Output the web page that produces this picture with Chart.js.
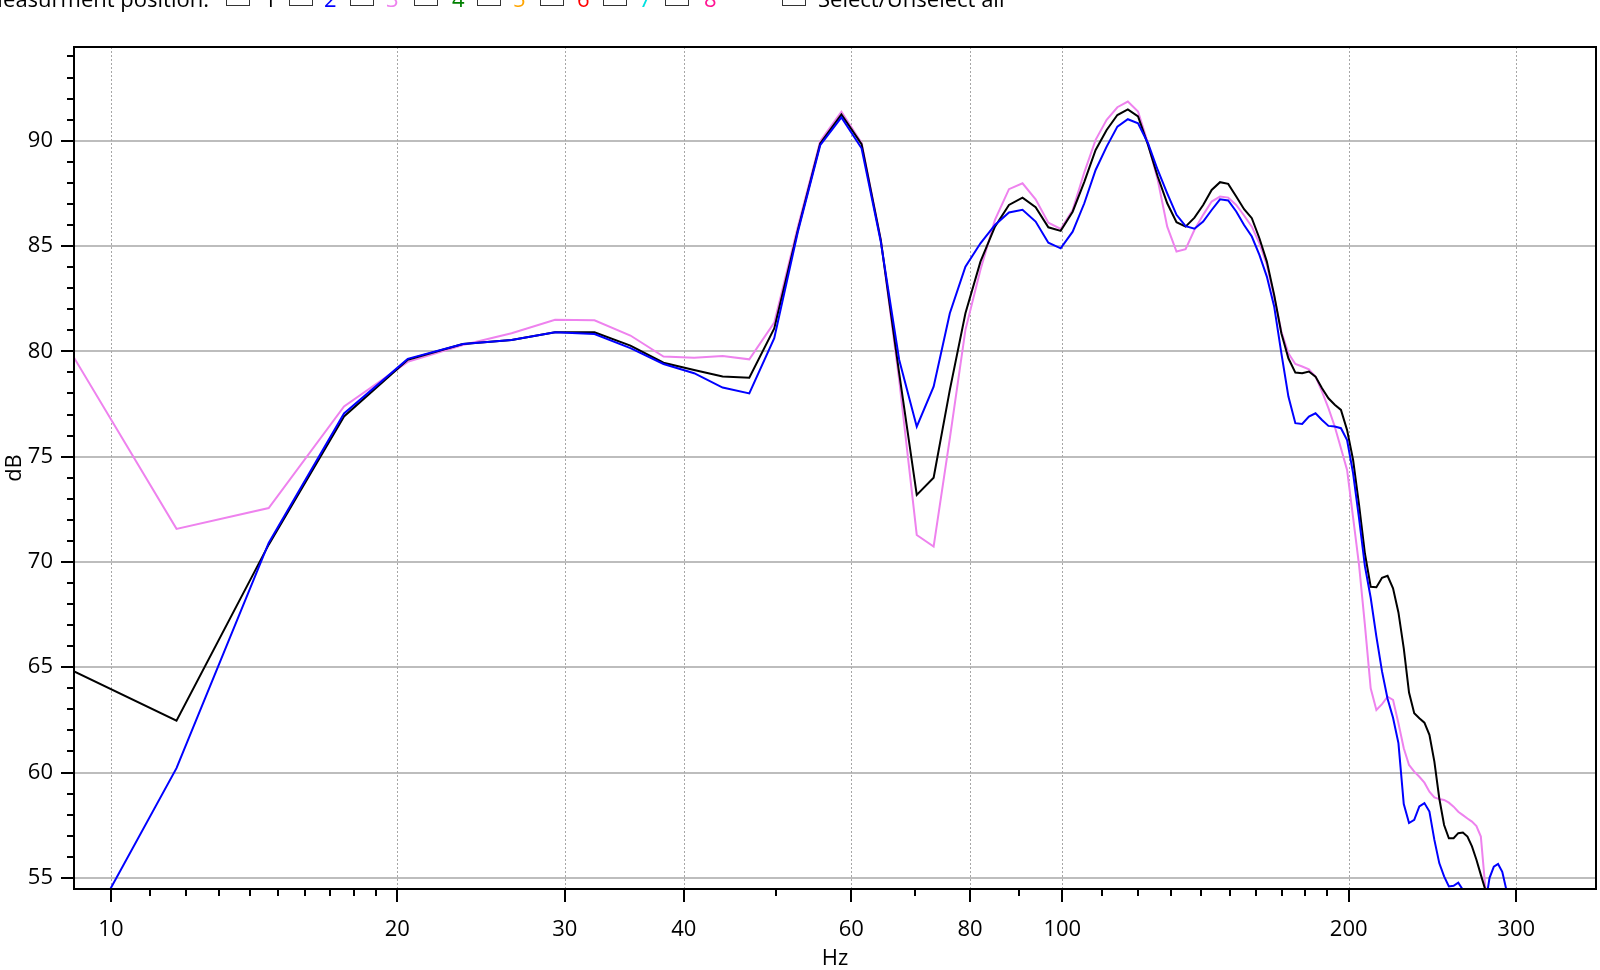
<!DOCTYPE html>
<html><head><meta charset="utf-8">
<script src="https://cdn.jsdelivr.net/npm/chart.js@4.4.1/dist/chart.umd.min.js"></script>
<style>
html,body{margin:0;padding:0;background:#fff;overflow:hidden;}
#wrap{position:relative;width:1600px;height:970px;overflow:hidden;}
canvas{position:absolute;left:0;top:0;}
#hdr{position:absolute;left:0;top:0;width:1600px;height:40px;font-family:"Open Sans",sans-serif;font-size:22px;color:#000;z-index:2;}
.t{position:absolute;top:-12px;line-height:20px;white-space:nowrap;}
.cb{position:absolute;top:-18px;width:24px;height:24px;border:1px solid #333;box-sizing:border-box;background:#fff;font-size:15px;line-height:22px;text-align:center;color:#000;}
</style></head>
<body><div id="wrap">
<canvas id="c" width="1600" height="970"></canvas>
<div id="hdr">
  <span class="t" style="right:1391px">Measurment position:</span>
  <span class="cb" style="left:226px">✓</span><span class="t" style="left:264px;color:#000">1</span>
  <span class="cb" style="left:289px">✓</span><span class="t" style="left:324px;color:#0000ff">2</span>
  <span class="cb" style="left:350px">✓</span><span class="t" style="left:386px;color:#ee82ee">3</span>
  <span class="cb" style="left:414px"></span><span class="t" style="left:452px;color:#008000">4</span>
  <span class="cb" style="left:477px"></span><span class="t" style="left:513px;color:#ffa500">5</span>
  <span class="cb" style="left:540px"></span><span class="t" style="left:577px;color:#ff0000">6</span>
  <span class="cb" style="left:603px"></span><span class="t" style="left:639px;color:#00e0e0">7</span>
  <span class="cb" style="left:665px"></span><span class="t" style="left:704px;color:#ff1493">8</span>
  <span class="cb" style="left:782px"></span><span class="t" style="left:818px">Select/Unselect all</span>
</div>
</div>
<script>
// Frequency bins (Hz)
const freqHz = [8.79,11.72,14.65,17.58,20.51,23.44,26.37,29.30,32.23,35.16,
38.09,41.02,43.95,46.88,49.80,52.73,55.66,58.59,61.52,64.45,
67.38,70.31,73.24,76.17,79.10,82.03,84.96,87.89,90.82,93.75,
96.68,99.61,102.54,105.47,108.40,111.33,114.26,117.19,120.12,123.05,
125.98,128.91,131.84,134.77,137.70,140.63,143.55,146.48,149.41,152.34,
155.27,158.20,161.13,164.06,166.99,169.92,172.85,175.78,178.71,181.64,
184.57,187.50,190.43,193.36,196.29,199.22,202.15,205.08,208.01,210.94,
213.87,216.80,219.73,222.66,225.59,228.52,231.45,234.38,237.30,240.23,
243.16,246.09,249.02,251.95,254.88,257.81,260.74,263.67,266.60,269.53,
272.46,275.39,278.32,281.25,284.18,287.11,290.04,292.97,295.90,298.83];

// Measurement position 1 (black), dB
const pos1 = [65.18,62.46,70.82,76.91,79.6,80.35,80.54,80.91,80.9,80.27,
79.46,79.11,78.80,78.75,81.09,85.76,89.87,91.25,89.84,85.28,
78.96,73.18,74.0,78.17,81.81,84.26,85.92,86.95,87.3,86.84,
85.89,85.72,86.63,88.05,89.56,90.51,91.22,91.49,91.15,89.8,
88.3,87.03,86.13,85.92,86.35,86.95,87.66,88.03,87.95,87.35,
86.75,86.32,85.37,84.26,82.68,80.86,79.67,78.99,78.96,79.04,
78.80,78.25,77.77,77.46,77.22,76.27,74.84,72.71,70.4,68.82,
68.8,69.25,69.34,68.75,67.6,65.9,63.8,62.82,62.58,62.37,
61.79,60.52,58.78,57.51,56.88,56.88,57.12,57.15,56.96,56.49,
55.86,55.14,54.45,53.6,53.0,52.5,52.0,51.5,51.0,50.5];

// Measurement position 2 (blue), dB
const pos2 = [49.9,60.21,70.9,77.05,79.64,80.35,80.54,80.91,80.82,80.15,
79.40,78.96,78.28,78.0,80.62,85.68,89.79,91.11,89.64,85.2,
79.6,76.42,78.32,81.81,84.02,85.13,86.0,86.59,86.72,86.16,
85.16,84.89,85.68,87.03,88.61,89.72,90.67,91.02,90.83,89.88,
88.61,87.5,86.48,85.94,85.82,86.16,86.71,87.22,87.16,86.64,
86.0,85.45,84.58,83.55,82.13,79.91,77.85,76.59,76.55,76.9,
77.06,76.74,76.46,76.43,76.35,75.79,74.21,72.07,69.8,68.3,
66.45,64.8,63.5,62.6,61.4,58.5,57.6,57.75,58.39,58.55,
58.15,56.8,55.7,55.07,54.59,54.62,54.77,54.43,53.9,53.4,
53.2,53.3,53.7,55.0,55.53,55.66,55.29,54.42,53.5,52.8];

// Measurement position 3 (violet), dB
const pos3 = [81.0,71.57,72.56,77.38,79.5,80.3,80.86,81.5,81.47,80.75,
79.75,79.70,79.78,79.62,81.36,85.92,89.98,91.38,89.9,85.3,
78.64,71.28,70.73,75.87,81.02,83.87,86.24,87.7,87.98,87.22,
86.11,85.81,86.71,88.5,90.04,90.99,91.59,91.86,91.38,89.88,
88.14,85.92,84.74,84.85,85.77,86.48,87.11,87.35,87.3,86.95,
86.45,85.92,85.13,84.1,82.6,80.94,79.91,79.4,79.28,79.15,
78.8,78.09,77.3,76.43,75.4,74.37,72.1,69.85,67.0,64.0,
62.97,63.25,63.6,63.45,62.34,61.15,60.36,60.04,59.8,59.52,
59.09,58.82,58.74,58.7,58.57,58.38,58.14,57.98,57.82,57.67,
57.46,56.96,54.6,53.2,52.5,52.0,51.5,51.0,50.5,50.0];

// Axis ticks
const xTickValues = [10,11,12,13,14,15,16,17,18,19,20,30,40,50,60,70,80,90,100,110,120,130,140,150,160,170,180,190,200,300];
const xLabelValues = [10,20,30,40,60,80,100,200,300];
const yTickValues = [55,60,65,70,75,80,85,90];
const yMinorValues = [56,57,58,59,61,62,63,64,66,67,68,69,71,72,73,74,76,77,78,79,81,82,83,84,86,87,88,89,91,92,93,94];

const series = [
  {label:'2', data:pos2, color:'#0000ff'},
  {label:'1', data:pos1, color:'#000000'},
  {label:'3', data:pos3, color:'#ee82ee'}
];

const framePlugin = {
  id:'frame',
  beforeDatasetsDraw(chart){
    const {ctx, chartArea:a, scales:{x,y}} = chart;
    ctx.save();
    ctx.strokeStyle = '#bdbdbd'; ctx.lineWidth = 2;
    yTickValues.forEach(v=>{
      const py = Math.round(y.getPixelForValue(v));
      ctx.beginPath(); ctx.moveTo(a.left,py); ctx.lineTo(a.right,py); ctx.stroke();
    });
    ctx.strokeStyle = '#a6a6a6'; ctx.lineWidth = 1; ctx.setLineDash([2,2]);
    xLabelValues.forEach(v=>{
      const px = Math.round(x.getPixelForValue(v))+0.5;
      ctx.beginPath(); ctx.moveTo(px,a.top); ctx.lineTo(px,a.bottom); ctx.stroke();
    });
    ctx.restore();
  },
  afterDatasetsDraw(chart){
    const {ctx, chartArea:a, scales:{x,y}} = chart;
    ctx.save();
    ctx.strokeStyle = '#000'; ctx.lineWidth = 2;
    ctx.strokeRect(a.left, a.top, a.right-a.left, a.bottom-a.top);
    ctx.beginPath();
    yTickValues.forEach(v=>{ const py=Math.round(y.getPixelForValue(v)); ctx.moveTo(a.left-13,py); ctx.lineTo(a.left,py); });
    yMinorValues.forEach(v=>{ const py=Math.round(y.getPixelForValue(v)); ctx.moveTo(a.left-7,py); ctx.lineTo(a.left,py); });
    xTickValues.forEach(v=>{
      const px=Math.round(x.getPixelForValue(v));
      const len = xLabelValues.includes(v) ? 13 : 7;
      ctx.moveTo(px,a.bottom); ctx.lineTo(px,a.bottom+len);
    });
    ctx.stroke();
    ctx.restore();
  }
};

Chart.defaults.font.family = "'Open Sans', sans-serif";
Chart.defaults.color = '#000';

new Chart(document.getElementById('c'), {
  type:'line',
  data:{
    datasets: series.map(s=>({
      label:s.label,
      data: freqHz.map((f,i)=>({x:f, y:s.data[i]})),
      borderColor:s.color, backgroundColor:s.color,
      borderWidth:2, pointRadius:0, tension:0, clip:0
    }))
  },
  options:{
    responsive:false, animation:false, devicePixelRatio:1,
    layout:{padding:{top:47,right:4,left:0,bottom:0}},
    plugins:{legend:{display:false}, tooltip:{enabled:false}},
    scales:{
      x:{
        type:'logarithmic', min:9.145, max:363.9,
        grid:{display:false, drawTicks:false}, border:{display:false},
        afterBuildTicks:s=>{ s.ticks = xTickValues.map(v=>({value:v})); },
        afterFit:s=>{ s.height = 81; },
        ticks:{autoSkip:false, maxRotation:0, padding:28, font:{size:22},
          callback:(v)=> xLabelValues.includes(v) ? String(v) : ''},
        title:{display:true, text:'Hz', font:{size:22, lineHeight:1}, padding:{top:0,bottom:0}}
      },
      y:{
        type:'linear', min:54.47, max:94.45,
        grid:{display:false, drawTicks:false}, border:{display:false},
        afterBuildTicks:s=>{ s.ticks = yTickValues.map(v=>({value:v})); },
        afterFit:s=>{ s.width = 74; },
        ticks:{padding:21, font:{size:22}, callback:(v)=>String(v)},
        title:{display:true, text:'dB', font:{size:22, lineHeight:1}, padding:{top:4,bottom:0}}
      }
    }
  },
  plugins:[framePlugin]
});
</script>
</body></html>
